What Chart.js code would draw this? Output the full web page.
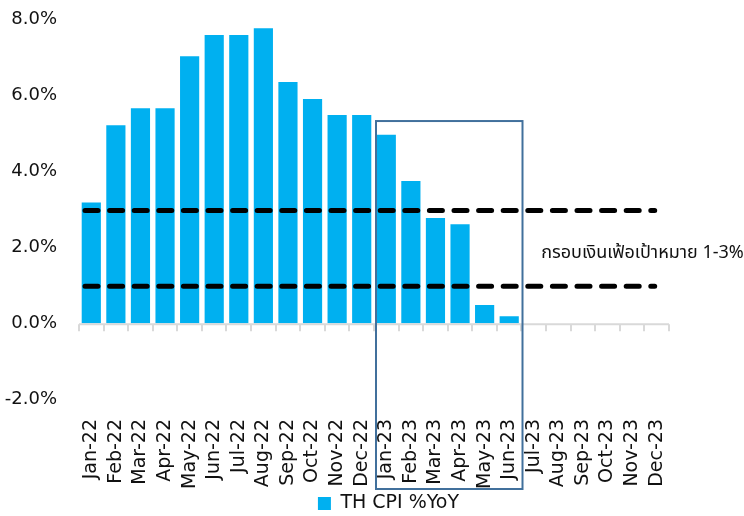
<!DOCTYPE html>
<html>
<head>
<meta charset="utf-8">
<script src="https://cdn.jsdelivr.net/npm/chart.js@4"></script>
<style>
  html, body { margin: 0; padding: 0; background: #fff; }
  #wrap { width: 744px; height: 516px; }
</style>
</head>
<body>
<div id="wrap"><canvas id="cpiChart"></canvas></div>
<script>
months = ['Jan-22','Feb-22','Mar-22','Apr-22','May-22','Jun-22','Jul-22','Aug-22','Sep-22','Oct-22','Nov-22','Dec-22',
          'Jan-23','Feb-23','Mar-23','Apr-23','May-23','Jun-23','Jul-23','Aug-23','Sep-23','Oct-23','Nov-23','Dec-23'];
cpiYoY = [3.18, 5.22, 5.67, 5.67, 7.04, 7.60, 7.60, 7.78, 6.36, 5.91, 5.49, 5.49,
          4.97, 3.75, 2.77, 2.61, 0.48, 0.18, null, null, null, null, null, null];
yTicks = [-2, 0, 2, 4, 6, 8];
targetBand = [1, 3];
targetLabel = 'กรอบเงินเฟ้อเป้าหมาย 1-3%';
highlight = ['Jan-23', 'Jun-23'];
highlightTop = 5.33;

const FONT = '"DejaVu Sans", "Noto Sans", sans-serif';

// zero line with boundary ticks, target band dashes, label and highlight box
const extras = {
    id: 'extras',
    afterLayout(chart) {
        // legend sits right of centre in the original
        chart.legend.left += 108;
    },
    afterDatasetsDraw(chart) {
        const ctx = chart.ctx, x = chart.scales.x, y = chart.scales.y, area = chart.chartArea;
        const step = x.getPixelForValue(1) - x.getPixelForValue(0);
        const y0 = y.getPixelForValue(0);
        ctx.save();
        ctx.strokeStyle = '#d9d9d9';
        ctx.lineWidth = 2;
        ctx.beginPath();
        ctx.moveTo(area.left, y0 + 1);
        ctx.lineTo(area.right, y0 + 1);
        for (let i = 0; i <= months.length; i++) {
            const px = Math.round(x.getPixelForValue(0) - step / 2 + i * step);
            ctx.moveTo(px, y0 + 1);
            ctx.lineTo(px, y0 + 8);
        }
        ctx.stroke();

        ctx.strokeStyle = '#000';
        ctx.lineWidth = 5;
        ctx.lineCap = 'round';
        ctx.setLineDash([13, 11.6]);
        targetBand.forEach(v => {
            const py = y.getPixelForValue(v) + 1;
            ctx.beginPath();
            ctx.moveTo(area.left + 6, py);
            ctx.lineTo(x.getPixelForValue(months.length - 1) - 2, py);
            ctx.stroke();
        });
        ctx.restore();
    },
    afterDraw(chart) {
        const ctx = chart.ctx, x = chart.scales.x, y = chart.scales.y;
        const step = x.getPixelForValue(1) - x.getPixelForValue(0);
        ctx.save();
        ctx.fillStyle = '#111';
        ctx.font = '18px "Noto Sans", "Noto Sans Thai", sans-serif';
        ctx.textBaseline = 'middle';
        ctx.fillText(targetLabel, x.getPixelForValue(months.indexOf('Jul-23')) + step * 0.3, y.getPixelForValue(1.85));

        const l = x.getPixelForValue(months.indexOf(highlight[0])) - step / 2 + 2;
        const r = x.getPixelForValue(months.indexOf(highlight[1])) + step / 2 + 1;
        const t = y.getPixelForValue(highlightTop);
        const b = x.bottom;
        ctx.strokeStyle = '#41709c';
        ctx.lineWidth = 2;
        ctx.strokeRect(l, t, r - l, b - t);
        ctx.restore();
    }
};

new Chart(document.getElementById('cpiChart'), {
    type: 'bar',
    data: {
        labels: months,
        datasets: [{
            label: 'TH CPI %YoY',
            data: cpiYoY,
            backgroundColor: '#00b0f0',
            borderWidth: 0,
            categoryPercentage: 1,
            barPercentage: 0.78
        }]
    },
    options: {
        responsive: true,
        maintainAspectRatio: false,
        animation: false,
        layout: { padding: { top: 0, right: 75, left: 0, bottom: -7 } },
        plugins: {
            legend: {
                position: 'bottom',
                labels: {
                    boxWidth: 13, boxHeight: 13, padding: 5,
                    color: '#111',
                    font: { family: FONT, size: 19 }
                }
            },
            tooltip: { enabled: false }
        },
        scales: {
            x: {
                grid: { display: false },
                border: { display: false },
                afterFit: s => { s.height = 90; },
                ticks: {
                    color: '#111',
                    minRotation: 90, maxRotation: 90,
                    autoSkip: false,
                    padding: 12,
                    font: { family: FONT, size: 19 }
                }
            },
            y: {
                min: -2, max: 8,
                afterBuildTicks: s => { s.ticks = yTicks.map(v => ({ value: v })); },
                afterFit: s => { s.width = 79; },
                grid: { display: false, drawTicks: true, tickLength: 13 },
                border: { display: false },
                ticks: {
                    color: '#111',
                    padding: 9,
                    font: { family: FONT, size: 18 },
                    callback: v => v.toFixed(1) + '%'
                }
            }
        }
    },
    plugins: [extras]
});
</script>
</body>
</html>
